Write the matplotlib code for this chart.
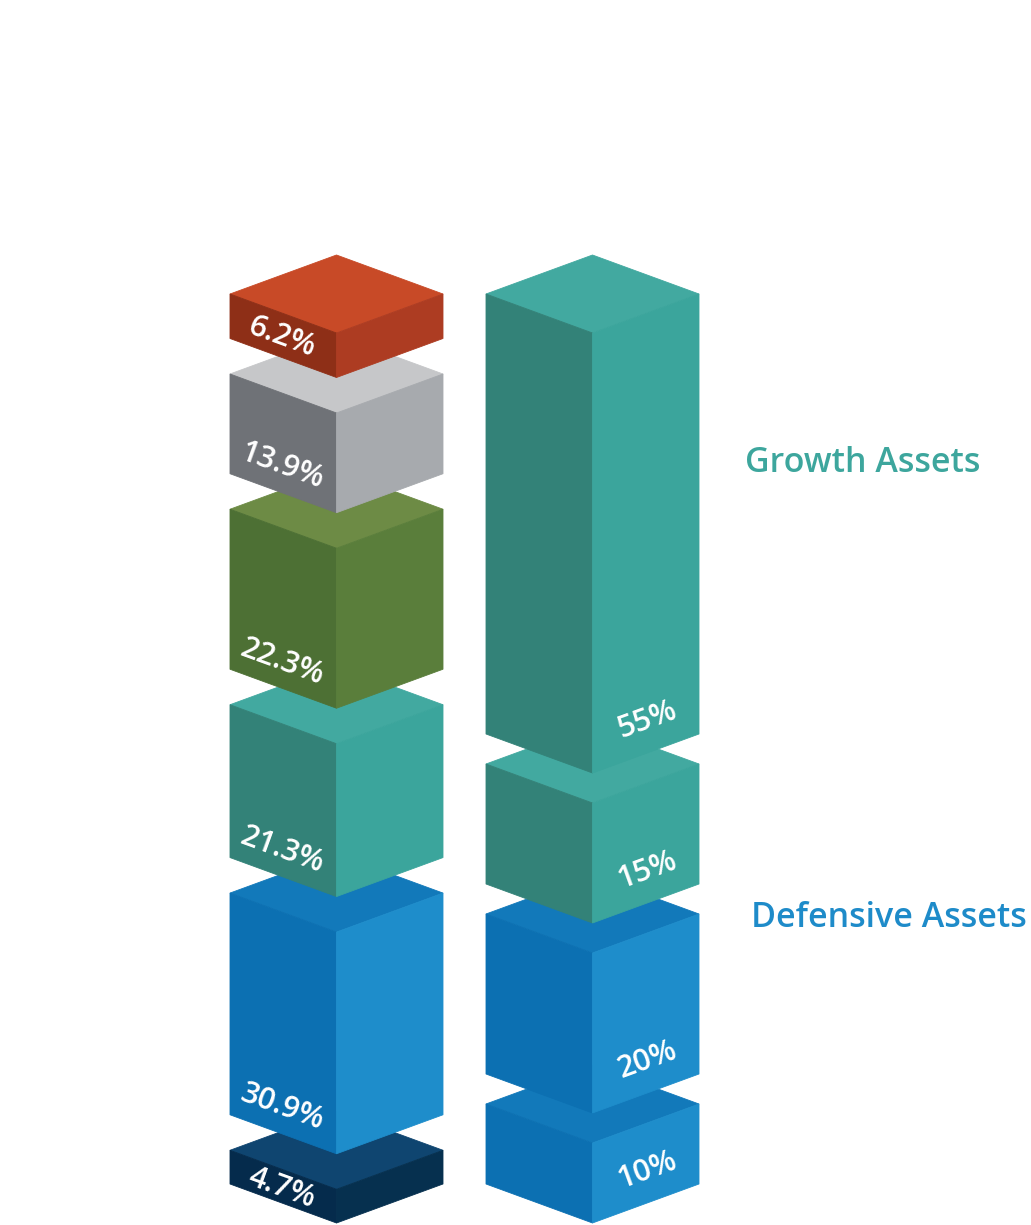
import matplotlib
matplotlib.use("Agg")
import matplotlib.pyplot as plt
from matplotlib.patches import Polygon

# segment values, bottom to top
left_values = [4.7, 30.9, 21.3, 22.3, 13.9, 6.2]
left_labels = ["4.7%", "30.9%", "21.3%", "22.3%", "13.9%", "6.2%"]
right_values = [10, 20, 15, 55]
right_labels = ["10%", "20%", "15%", "55%"]

# (top, left face, right face) colours per segment
left_colors = [
    ("#0F4570", "#052B4C", "#06304F"),
    ("#1279BA", "#0C70B2", "#1E8DCB"),
    ("#42A9A0", "#338278", "#3BA59C"),
    ("#6D8B45", "#4D7034", "#5A7E3B"),
    ("#C6C7C9", "#6F7277", "#A7AAAE"),
    ("#C84A27", "#8E2F17", "#AD3C22"),
]
right_colors = [
    ("#1279BA", "#0C70B2", "#1E8DCB"),
    ("#1279BA", "#0C70B2", "#1E8DCB"),
    ("#42A9A0", "#338278", "#3BA59C"),
    ("#42A9A0", "#338278", "#3BA59C"),
]

W, H = 1031, 1225
fig = plt.figure(figsize=(W / 100, H / 100), dpi=100)
ax = fig.add_axes([0, 0, 1, 1])
ax.set_xlim(0, W)
ax.set_ylim(H, 0)
ax.axis("off")

FONT = ["Open Sans", "DejaVu Sans"]
BW = 213          # box width
D = 39            # half height of top diamond
TOP = 294         # y of the upper side corners
BOTTOM = 1184     # y of the lowest side corners


def face(pts, col):
    ax.add_patch(Polygon(pts, closed=True, fc=col, ec=col, lw=0.6))


def draw_column(x0, values, labels, colors, gap, side):
    n = len(values)
    avail = (BOTTOM - TOP) - gap * (n - 1)
    scale = avail / sum(values)
    c = x0 + BW / 2
    # stack positions from the bottom
    bottom = BOTTOM
    boxes = []
    for v in values:
        h = v * scale
        boxes.append((bottom - h, h))
        bottom = bottom - h - gap
    for (t, h), lab, (ct, cl, cr) in zip(boxes, labels, colors):
        face([(x0, t), (c, t - D), (x0 + BW, t), (c, t + D)], ct)
        face([(x0, t), (c, t + D), (c, t + D + h), (x0, t + h)], cl)
        face([(c, t + D), (x0 + BW, t), (x0 + BW, t + h), (c, t + D + h)], cr)
        if side == "left":
            lx = x0 + 52
            edge = t + h + (lx - x0) * D / (BW / 2)
            off = min(26, h * 0.45)
            ax.text(lx, edge - off, lab, color="white", fontsize=22, family=FONT,
                    fontweight="semibold", rotation=-20, rotation_mode="anchor",
                    ha="center", va="center")
        else:
            lx = c + 55
            edge = t + h + D - (lx - c) * D / (BW / 2)
            ax.text(lx, edge - 33, lab, color="white", fontsize=22, family=FONT,
                    fontweight="semibold", rotation=20, rotation_mode="anchor",
                    ha="center", va="center")


draw_column(230, left_values, left_labels, left_colors, 35.5, "left")
draw_column(486, right_values, right_labels, right_colors, 30, "right")

ax.text(745, 463, "Growth Assets", color="#3DA69D", fontsize=24.5, family=FONT,
        fontweight="semibold", ha="left", va="center")
ax.text(751, 918, "Defensive Assets", color="#1E8BC9", fontsize=24.5, family=FONT,
        fontweight="semibold", ha="left", va="center")

fig.savefig("out.png", dpi=100)
